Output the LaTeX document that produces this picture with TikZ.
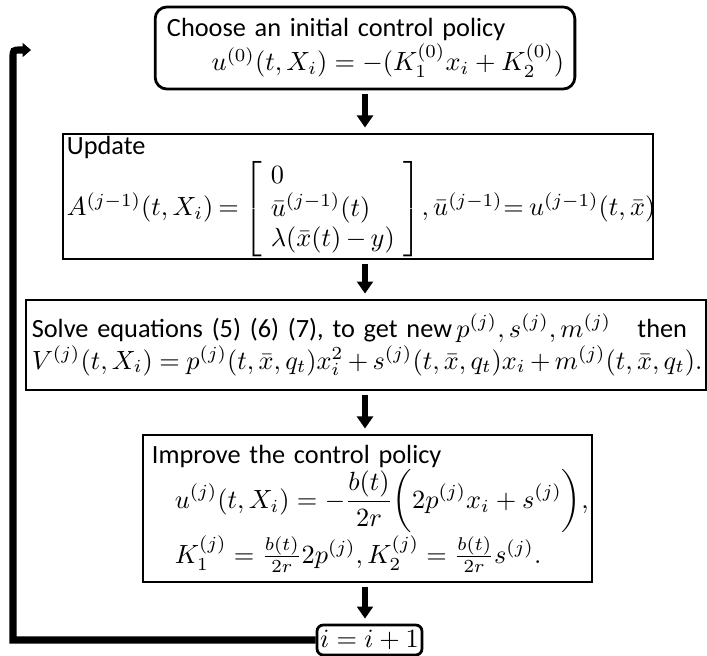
\documentclass[tikz,border=0pt]{standalone}
\usepackage{amsmath}
\usepackage{fontspec}
\newfontfamily\calib{Carlito}
\usetikzlibrary{arrows.meta, positioning, calc}

\begin{document}
\begin{tikzpicture}[x=0.38pt, y=-0.38pt,
    every node/.style={font=\fontsize{10}{12}\selectfont},
    stepbox/.style={draw, line width=1.05pt, align=left, inner ysep=1pt},
    flowarrow/.style={line width=2.3pt, -{Triangle[width=6pt,length=4.6pt]}, shorten <=1.5pt, shorten >=1.9pt},
    loopline/.style={line width=2.7pt, -{Triangle[width=5.3pt,length=3.2pt]}}]
    \useasboundingbox (0,0) rectangle (707,656);

    % Steps of the iteration
    \node[stepbox, rounded corners=4.5pt, text width=150.5pt, inner xsep=4.5pt, minimum height=31.2pt] (init) at (365,48)
        {{\calib Choose an initial control policy}\\
         \hspace*{17pt}\mbox{$u^{(0)}(t,X_i)=-(K_1^{(0)}x_i+K_2^{(0)})$}};
    \node[stepbox, text width=221.2pt, inner xsep=1.5pt, minimum height=46.7pt] (update) at (358,196.5)
        {{\calib Update}\\
         \mbox{\renewcommand{\arraystretch}{0.95}\setlength{\arraycolsep}{3.5pt}\thickmuskip=3.5mu\medmuskip=3mu
         $A^{(j-1)}(t,X_i)=\left[\begin{array}{l}0\\ \bar u^{(j-1)}(t)\\ \lambda(\bar x(t)-y)\end{array}\right]\!,\bar u^{(j-1)}\!=u^{(j-1)}(t,\bar x)$}};
    \node[stepbox, text width=254pt, inner xsep=2.2pt, minimum height=34.2pt] (solve) at (366,345)
        {{\calib Solve equations (5) (6) (7), to get new}\,$p^{(j)}, s^{(j)}, m^{(j)}$\quad{\calib then}\\
         \mbox{\thickmuskip=4.5mu\medmuskip=3mu
         $V^{(j)}(t,X_i)=p^{(j)}(t,\bar x,q_t)x_i^2+s^{(j)}(t,\bar x,q_t)x_i+m^{(j)}(t,\bar x,q_t).$}};
    \node[stepbox, text width=163.8pt, inner xsep=3.4pt, minimum height=55.9pt] (improve) at (367.5,508.5)
        {{\calib Improve the control policy}\\
         \hspace*{8.7pt}\mbox{$\displaystyle u^{(j)}(t,X_i)=-\frac{b(t)}{2r}\biggl(2p^{(j)}x_i+s^{(j)}\biggr),$}\\
         \hspace*{8.7pt}\mbox{$K_1^{(j)}=\tfrac{b(t)}{2r}2p^{(j)},K_2^{(j)}=\tfrac{b(t)}{2r}s^{(j)}.$}};
    \node[draw, line width=1.05pt, rounded corners=2.4pt, inner sep=1pt, minimum width=39.9pt, minimum height=11.4pt] (incr) at (369.5,640) {$i=i+1$};

    % Arrows between the steps
    \coordinate (axis) at (365,0);
    \foreach \a/\b in {init/update, update/solve, solve/improve, improve/incr}
        \draw[flowarrow] (axis |- \a.south) -- (axis |- \b.north);

    % Loop back to the start
    \coordinate (loopbot) at (13,640);
    \coordinate (loopbend) at (13,58);
    \coordinate (loopend) at (31,50);
    \draw[loopline] (incr.west) -- (loopbot) -- (loopbend) .. controls (13,50) .. (21,50) -- (loopend);
\end{tikzpicture}
\end{document}
